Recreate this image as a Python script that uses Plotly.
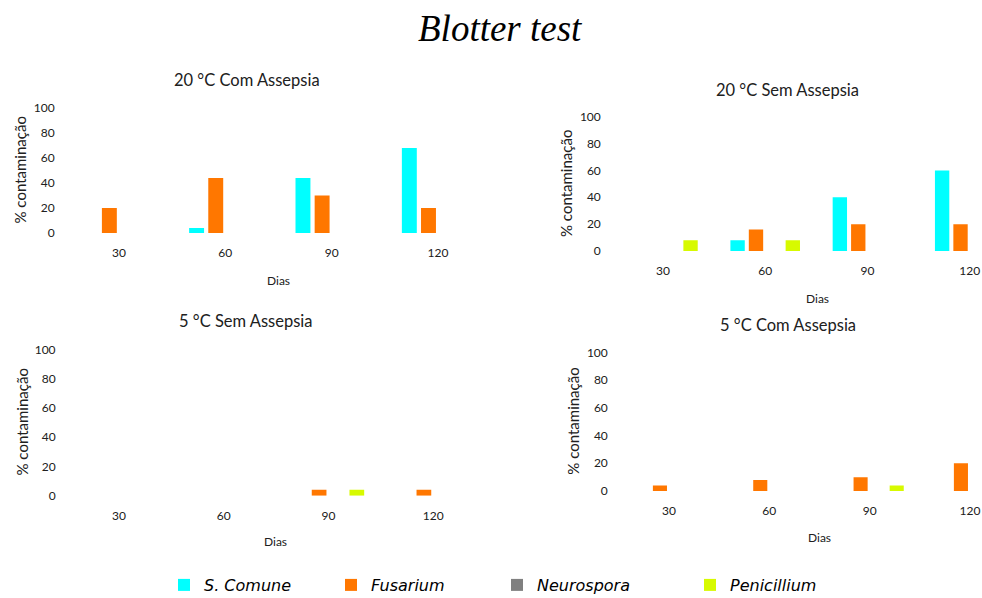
import plotly.graph_objects as go

W, H = 982, 598

# ---- data -------------------------------------------------------------
dias = ["30", "60", "90", "120"]
species = ["S. Comune", "Fusarium", "Neurospora", "Penicillium"]
colors = ["#00FFFF", "#FF7700", "#808080", "#D7FA00"]

panel_titles = ["20 °C Com Assepsia", "20 °C Sem Assepsia",
                "5 °C Sem Assepsia", "5 °C Com Assepsia"]

# % contamination per species, one list per panel
com_20_s_comune = [0, 4, 44, 68]
com_20_fusarium = [20, 44, 30, 20]
com_20_neurospora = [0, 0, 0, 0]
com_20_penicillium = [0, 0, 0, 0]

sem_20_s_comune = [0, 8, 40, 60]
sem_20_fusarium = [0, 16, 20, 20]
sem_20_neurospora = [0, 0, 0, 0]
sem_20_penicillium = [8, 8, 0, 0]

sem_5_s_comune = [0, 0, 0, 0]
sem_5_fusarium = [0, 0, 4, 4]
sem_5_neurospora = [0, 0, 0, 0]
sem_5_penicillium = [0, 0, 4, 0]

com_5_s_comune = [0, 0, 0, 0]
com_5_fusarium = [4, 8, 10, 20]
com_5_neurospora = [0, 0, 0, 0]
com_5_penicillium = [0, 0, 4, 0]

panels = [
    [com_20_s_comune, com_20_fusarium, com_20_neurospora, com_20_penicillium],
    [sem_20_s_comune, sem_20_fusarium, sem_20_neurospora, sem_20_penicillium],
    [sem_5_s_comune, sem_5_fusarium, sem_5_neurospora, sem_5_penicillium],
    [com_5_s_comune, com_5_fusarium, com_5_neurospora, com_5_penicillium],
]

# ---- layout geometry (pixels) -----------------------------------------
# (x_left, x_right, y_top, y_bottom, x_range_end)
geom = [
    (65.75, 491.25, 108.0, 233.0, 3.5),
    (611.8, 982.0, 116.7, 251.0, 3.12),
    (66.6, 485.7, 349.3, 495.7, 3.5),
    (618.8, 982.0, 352.3, 491.0, 3.12),
]
title_pos = [(247, 80), (787, 90), (245, 321), (788, 325)]
ytitle_pos = [(19, 170.5), (566, 184), (21, 422.5), (573, 421.7)]
xtitle_pos = [(278, 280), (817, 298), (275, 541), (819, 537)]
legend_x = [164, 331, 497, 690]


def px(x):
    return x / W


def py(y):
    return 1 - y / H


TICK_FONT = dict(family="Lato", size=12, color="#202020")
fig = go.Figure()

for p, series in enumerate(panels):
    ax = "" if p == 0 else str(p + 1)
    for s, vals in enumerate(series):
        fig.add_trace(go.Bar(
            x=dias, y=vals, name=species[s],
            marker=dict(color=colors[s], line=dict(width=0)),
            xaxis="x" + ax, yaxis="y" + ax,
            showlegend=(p == 0),
            legend="legend" if s == 0 else "legend" + str(s + 1),
        ))
    xl, xr, yt, yb, xend = geom[p]
    fig.layout["xaxis" + ax] = dict(
        domain=[px(xl), px(xr)], anchor="y" + ax, type="category",
        range=[-0.5, xend], showline=False, showgrid=False, zeroline=False,
        ticks="", tickfont=TICK_FONT, ticklabelstandoff=11, fixedrange=True,
    )
    fig.layout["yaxis" + ax] = dict(
        domain=[py(yb), py(yt)], anchor="x" + ax, range=[0, 100],
        tickvals=[0, 20, 40, 60, 80, 100], showline=False, showgrid=False,
        zeroline=False, ticks="", tickfont=TICK_FONT, ticklabelstandoff=10,
        fixedrange=True,
    )
    tx, ty = title_pos[p]
    fig.add_annotation(x=px(tx), y=py(ty), xref="paper", yref="paper",
                       text=panel_titles[p], showarrow=False,
                       xanchor="center", yanchor="middle",
                       font=dict(family="Lato", size=16.5, color="#202020"))
    yx, yy = ytitle_pos[p]
    fig.add_annotation(x=px(yx), y=py(yy), xref="paper", yref="paper",
                       text="% contaminação", textangle=-90, showarrow=False,
                       xanchor="center", yanchor="middle",
                       font=dict(family="Lato", size=15, color="#202020"))
    dx, dy = xtitle_pos[p]
    fig.add_annotation(x=px(dx), y=py(dy), xref="paper", yref="paper",
                       text="Dias", showarrow=False,
                       xanchor="center", yanchor="middle",
                       font=dict(family="Lato", size=12, color="#202020"))

fig.add_annotation(x=px(500), y=py(29), xref="paper", yref="paper",
                   text="<i>Blotter test</i>", showarrow=False,
                   xanchor="center", yanchor="middle",
                   font=dict(family="Liberation Serif", size=37, color="#000000"))

# one legend box per species so each entry sits at its own spot,
# placed in container coordinates so no margin is reserved for them
legend_font = dict(family="DejaVu Sans", size=16, color="#000000", style="italic")
legends = {}
for i, lx in enumerate(legend_x):
    key = "legend" if i == 0 else "legend" + str(i + 1)
    legends[key] = dict(
        x=px(lx), y=py(585), xref="container", yref="container",
        xanchor="left", yanchor="middle",
        orientation="h", font=legend_font, bgcolor="rgba(0,0,0,0)",
        borderwidth=0, itemclick=False, itemdoubleclick=False,
    )

fig.update_layout(
    width=W, height=H,
    margin=dict(l=0, r=0, t=0, b=0, autoexpand=False),
    paper_bgcolor="white", plot_bgcolor="white",
    barmode="group", bargap=0.28, bargroupgap=0.22,
    showlegend=True,
    **legends,
)

fig.write_html("out.html")
